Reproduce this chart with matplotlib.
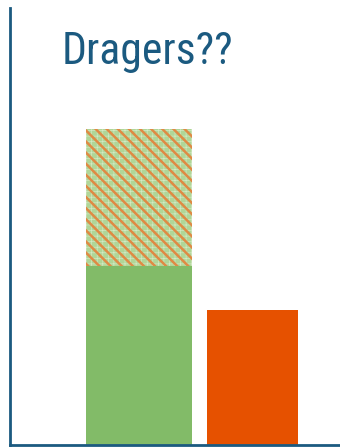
import matplotlib.pyplot as plt

# bar values (chart units 0-100)
categories = ["A", "B"]
base_values = [41, 31]
extra_values = [31.3, 0]
widths = [0.934, 0.80]

blue = "#1b5a80"
green = "#82bb68"
orange = "#e65100"

fig = plt.figure(figsize=(3.4, 4.47), dpi=100)
ax = fig.add_axes([10 / 340, 2 / 447, 330 / 340, 437 / 447])

x = list(range(len(categories)))
ax.bar(x, base_values, width=widths, color=[green, orange], linewidth=0)

# stacked hatched part: pale green with a faint white grid, orange diagonals on top
grid = ax.bar(x[:1], extra_values[:1], bottom=base_values[:1], width=widths[:1],
              facecolor="#b0d698", edgecolor="#d2e9c4", hatch="+++", linewidth=0)
diag = ax.bar(x[:1], extra_values[:1], bottom=base_values[:1], width=widths[:1],
              facecolor="none", edgecolor="#df8a44", hatch="\\\\\\", linewidth=0)
for p in grid:
    if hasattr(p, "set_hatch_linewidth"):
        p.set_hatch_linewidth(0.5)
for p in diag:
    if hasattr(p, "set_hatch_linewidth"):
        p.set_hatch_linewidth(1.8)

ax.set_xlim(-1.137, 1.771)
ax.set_ylim(0, 100)
ax.set_xticks([])
ax.set_yticks([])
for side in ["top", "right"]:
    ax.spines[side].set_visible(False)
for side in ["left", "bottom"]:
    ax.spines[side].set_color(blue)
    ax.spines[side].set_linewidth(2)

fig.text(62 / 340, 1 - 64 / 447, "Dragers??", color=blue, fontsize=31.5,
         family="Roboto Condensed", ha="left", va="baseline")

fig.savefig("out.png", dpi=100)
